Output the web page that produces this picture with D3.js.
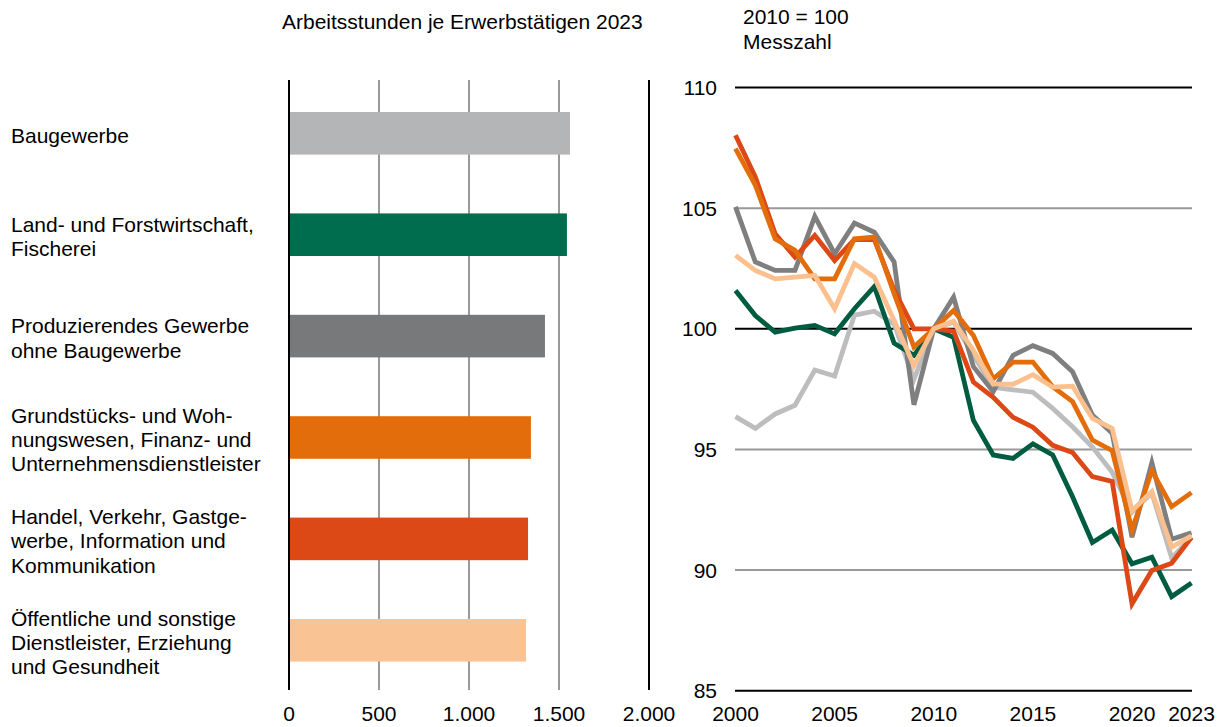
<!DOCTYPE html>
<html>
<head>
<meta charset="utf-8">
<script src="https://cdn.jsdelivr.net/npm/d3@7"></script>
<style>
  body { margin: 0; background: #fff; }
  svg text { font-family: "Liberation Sans", Arial, sans-serif; font-size: 21px; fill: #000; }
</style>
</head>
<body>
<script>
// Arbeitsstunden je Erwerbstätigen 2023
var categories = [
    ["Baugewerbe"],
    ["Land- und Forstwirtschaft,", "Fischerei"],
    ["Produzierendes Gewerbe", "ohne Baugewerbe"],
    ["Grundstücks- und Woh-", "nungswesen, Finanz- und", "Unternehmensdienstleister"],
    ["Handel, Verkehr, Gastge-", "werbe, Information und", "Kommunikation"],
    ["Öffentliche und sonstige", "Dienstleister, Erziehung", "und Gesundheit"]
];
var hours2023 = [1561, 1544, 1422, 1344, 1328, 1317];
var barTicks = [0, 500, 1000, 1500, 2000];
var barTickLabels = ["0", "500", "1.000", "1.500", "2.000"];

// Messzahl 2010 = 100
var years = d3.range(2000, 2024);
var bau    = [96.36, 95.87, 96.47, 96.83, 98.29, 98.04, 100.57, 100.73, 100.2, 97.9, 100, 100.28, 98.9, 97.58, 97.47, 97.37, 96.7, 95.94, 95.1, 94.05, 92.4, 93.2, 90.5, 91.35];
var prod   = [105.05, 102.77, 102.42, 102.42, 104.66, 103.11, 104.38, 104.0, 102.77, 96.85, 100, 101.31, 98.43, 97.39, 98.9, 99.3, 98.98, 98.22, 96.43, 95.67, 91.36, 94.45, 91.28, 91.55];
var land   = [101.59, 100.55, 99.86, 100.03, 100.14, 99.79, 100.83, 101.75, 99.4, 98.9, 100, 99.65, 96.2, 94.77, 94.63, 95.23, 94.77, 93.04, 91.14, 91.66, 90.26, 90.53, 88.9, 89.46];
var handel = [108.02, 106.29, 103.94, 102.97, 103.87, 102.83, 103.7, 103.7, 101.6, 100, 100, 99.9, 97.79, 97.16, 96.33, 95.92, 95.17, 94.87, 93.87, 93.67, 88.6, 89.98, 90.28, 91.36];
var grund  = [107.47, 105.95, 103.73, 103.25, 102.07, 102.07, 103.73, 103.8, 101.45, 99.24, 100, 100.76, 99.72, 97.93, 98.62, 98.62, 97.6, 96.98, 95.39, 94.95, 91.66, 94.12, 92.63, 93.21];
var oeff   = [103.04, 102.42, 102.07, 102.14, 102.21, 100.83, 102.7, 102.14, 100.34, 98.48, 100, 100.32, 99.1, 97.72, 97.7, 98.1, 97.58, 97.62, 96.29, 95.87, 92.46, 93.25, 90.95, 91.42];
var lineTicks = [85, 90, 95, 100, 105, 110];
var blackTicks = [85, 100, 110];
var yearTicks = [2000, 2005, 2010, 2015, 2020, 2023];

var barColors = ["#b4b5b6", "#006e4e", "#78797b", "#e46d0b", "#dc4816", "#f9c394"];

var width = 1223,
    height = 727;

var svg = d3.select("body").append("svg")
    .attr("width", width)
    .attr("height", height);

// ---- left: bars
var x = d3.scaleLinear().domain([0, 2000]).range([289, 649]);
var y = d3.scaleBand().domain(d3.range(categories.length)).range([82.6, 691])
    .paddingInner(0.58).paddingOuter(0.29);

svg.append("text")
    .attr("x", 282)
    .attr("y", 29)
    .text("Arbeitsstunden je Erwerbstätigen 2023");

svg.append("g").selectAll("line")
    .data(barTicks)
    .enter()
    .append("line")
    .attr("x1", d => x(d))
    .attr("x2", d => x(d))
    .attr("y1", 80)
    .attr("y2", 690)
    .attr("stroke", d => (d == 0 || d == 2000) ? "#000" : "#999")
    .attr("stroke-width", 2);

svg.append("g").selectAll("rect")
    .data(hours2023)
    .enter()
    .append("rect")
    .attr("x", x(0) + 1)
    .attr("y", (d, i) => y(i))
    .attr("width", d => x(d) - x(0) - 1)
    .attr("height", y.bandwidth())
    .attr("fill", (d, i) => barColors[i]);

var labels = svg.append("g").selectAll("text")
    .data(categories)
    .enter()
    .append("text")
    .attr("x", 11);

labels.each(function (lines, i)
{
    var cy = y(i) + y.bandwidth() / 2 + 2;
    var lh = 24.3;
    var top = cy - (lines.length - 1) * lh / 2;
    d3.select(this).selectAll("tspan")
        .data(lines)
        .enter()
        .append("tspan")
        .attr("x", 11)
        .attr("y", (d, k) => top + k * lh + 7.5)
        .text(d => d);
});

svg.append("g").selectAll("text")
    .data(barTicks)
    .enter()
    .append("text")
    .attr("x", d => x(d))
    .attr("y", 721)
    .attr("text-anchor", "middle")
    .text((d, i) => barTickLabels[i]);

// ---- right: lines
var xs = d3.scaleLinear().domain([2000, 2023]).range([735.5, 1191.5]);
var ys = d3.scaleLinear().domain([85, 110]).range([690.7, 87.5]);

svg.append("text").attr("x", 743).attr("y", 24).text("2010 = 100");
svg.append("text").attr("x", 743).attr("y", 49).text("Messzahl");

svg.append("g").selectAll("line")
    .data(lineTicks)
    .enter()
    .append("line")
    .attr("x1", 735)
    .attr("x2", 1192)
    .attr("y1", d => ys(d))
    .attr("y2", d => ys(d))
    .attr("stroke", d => blackTicks.indexOf(d) >= 0 ? "#000" : "#999")
    .attr("stroke-width", 2);

svg.append("g").selectAll("text")
    .data(lineTicks)
    .enter()
    .append("text")
    .attr("x", 717)
    .attr("y", d => ys(d) + 7.5)
    .attr("text-anchor", "end")
    .text(d => d);

svg.append("g").selectAll("text")
    .data(yearTicks)
    .enter()
    .append("text")
    .attr("x", d => xs(d))
    .attr("y", 721)
    .attr("text-anchor", "middle")
    .text(d => d);

var series = [
    {values: bau, color: "#bdbdbd"},
    {values: prod, color: "#7f7f80"},
    {values: land, color: "#005c40"},
    {values: handel, color: "#dc4816"},
    {values: grund, color: "#e46d0b"},
    {values: oeff, color: "#fcc08e"}
];

var line = d3.line()
    .x((d, i) => xs(years[i]))
    .y(d => ys(d));

svg.append("g").selectAll("path")
    .data(series)
    .enter()
    .append("path")
    .attr("d", d => line(d.values))
    .style("stroke", d => d.color)
    .style("stroke-width", 4.8)
    .style("stroke-linejoin", "miter")
    .style("fill", "none");
</script>
</body>
</html>
